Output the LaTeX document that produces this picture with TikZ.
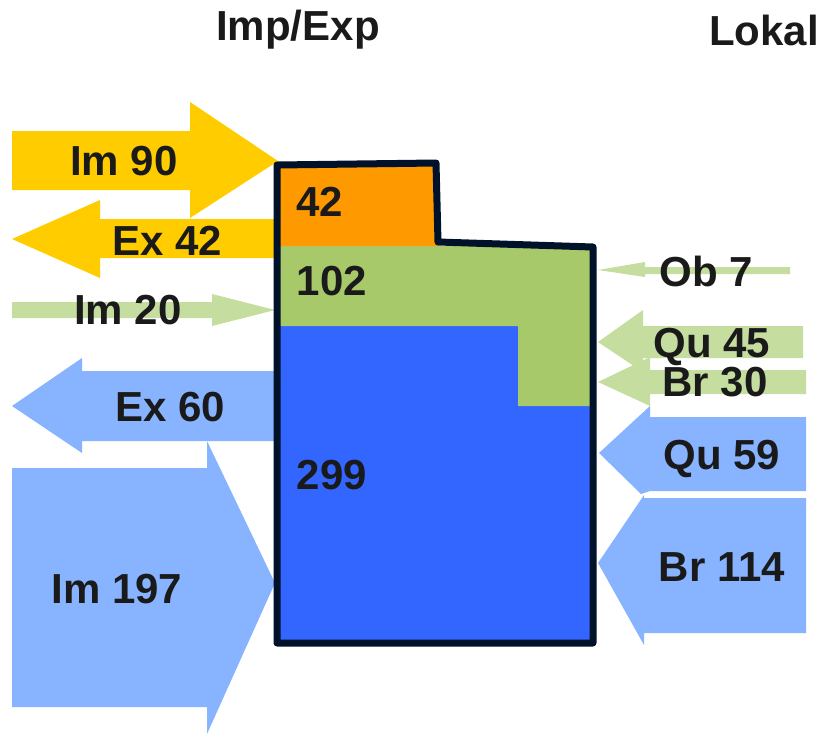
\documentclass[tikz,border=0pt]{standalone}
\usepackage{fontspec}
\setmainfont{Liberation Sans}
\definecolor{cyellow}{HTML}{FFCC00}
\definecolor{corange}{HTML}{FF9900}
\definecolor{cgreen}{HTML}{A8C96A}
\definecolor{clgreen}{HTML}{C5DD9F}
\definecolor{cblue}{HTML}{3366FF}
\definecolor{clblue}{HTML}{88B4FF}
\definecolor{cline}{HTML}{00112A}
\definecolor{ctext}{HTML}{1A1A1A}
\begin{document}
\begin{tikzpicture}[x=1pt,y=-1pt,
  lbl/.style={font=\fontsize{42}{48}\selectfont\bfseries, text=ctext, inner sep=0pt, anchor=center},
  lblb/.style={font=\fontsize{42}{48}\selectfont\bfseries, text=ctext, inner sep=0pt, anchor=base}]
\useasboundingbox (0,0) rectangle (821,734);
% left arrows
\fill[cyellow] (12,131) -- (190,131) -- (190,102) -- (278,161) -- (190,218) -- (190,190) -- (12,190) -- cycle;
\fill[cyellow] (12,239) -- (100,200) -- (100,219) -- (280,219) -- (280,258) -- (100,258) -- (100,278) -- cycle;
\fill[clgreen] (12,302) -- (212,302) -- (212,294) -- (275,310) -- (212,326) -- (212,318) -- (12,318) -- cycle;
\fill[clblue] (12,406) -- (82,358) -- (82,371) -- (280,371) -- (280,441) -- (82,441) -- (82,453) -- cycle;
\fill[clblue] (12,468) -- (207,468) -- (207,441) -- (275,583) -- (207,734) -- (207,707) -- (12,707) -- cycle;
% right arrows
\fill[clgreen] (790,267) -- (645,267) -- (645,262) -- (598,270) -- (645,277) -- (645,274) -- (790,274) -- cycle;
\fill[clgreen] (803,326) -- (643,326) -- (643,310) -- (598,342) -- (643,372) -- (643,358) -- (803,358) -- cycle;
\fill[clgreen] (806,370) -- (650,370) -- (650,357) -- (598,382) -- (650,406) -- (650,394) -- (806,394) -- cycle;
\fill[clblue] (806,417) -- (650,417) -- (650,406) -- (599,453) -- (641,494) -- (650,491) -- (806,491) -- cycle;
\fill[clblue] (806,498) -- (644,498) -- (644,495) -- (598,563) -- (644,645) -- (644,633) -- (806,633) -- cycle;
% box fills
\fill[cblue] (277,326) rectangle (593,643);
\fill[cgreen] (277,246) -- (593,246) -- (593,406) -- (518,406) -- (518,326) -- (277,326) -- cycle;
\fill[corange] (277,165) -- (436,163) -- (438,246) -- (277,246) -- cycle;
% outline
\draw[cline, line width=7pt, line join=round] (277,165) -- (436,163) -- (438,242) -- (593,247) -- (593,643) -- (277,643) -- cycle;
% labels
\node[lbl] (title1) at (298,30) {Imp/Exp};
\node[lbl] (title2) at (764,30) {Lokal};
\node[lbl] (im90) at (124,161) {Im 90};
\node[lbl] (ex42) at (167,241) {Ex 42};
\node[lbl] (im20) at (128,310) {Im 20};
\node[lbl] (ex60) at (170,407) {Ex 60};
\node[lbl] (im197) at (117,589) {Im 197};
\node[lbl] (v42) at (320,202) {42};
\node[lbl] (v102) at (332,281) {102};
\node[lbl] (v299) at (332,475) {299};
\node[lbl] (ob7) at (706,271) {Ob 7};
\node[lblb] (qu45) at (712,357) {Qu 45};
\node[lbl] (br30) at (715,382) {Br 30};
\node[lblb] (qu59) at (722,469) {Qu 59};
\node[lbl] (br114) at (722,567) {Br 114};
\end{tikzpicture}
\end{document}
